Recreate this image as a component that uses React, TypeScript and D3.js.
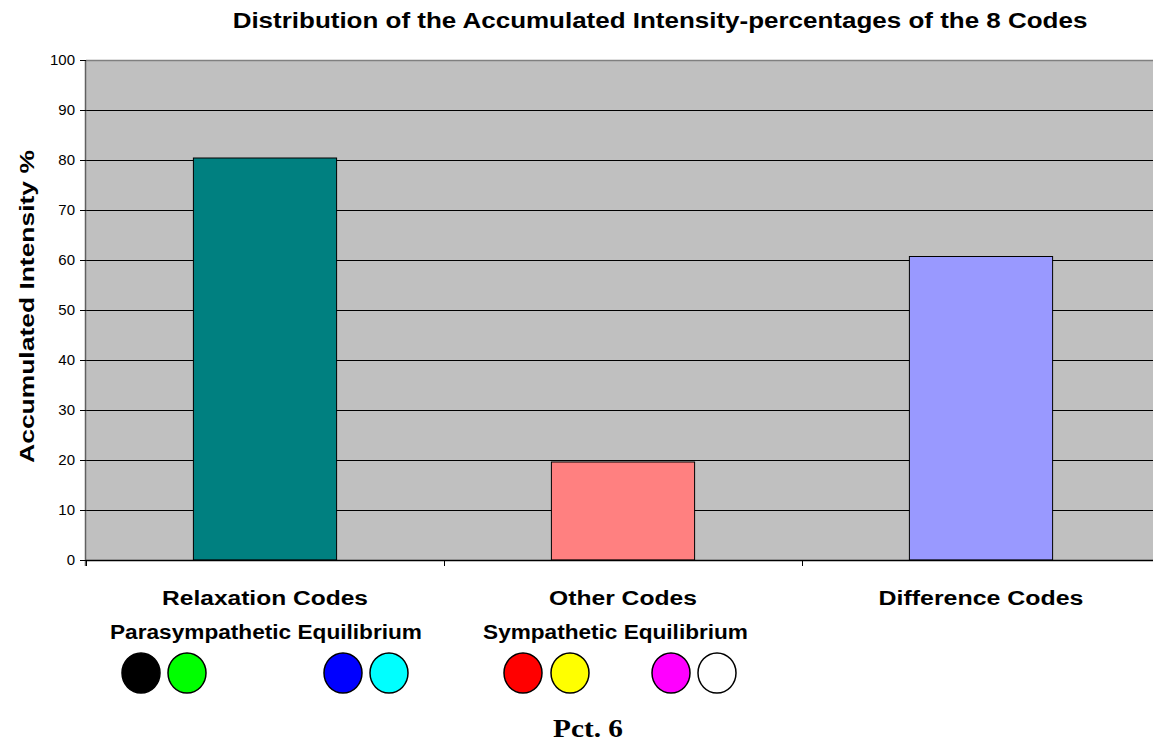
import React from "react";
import * as d3 from "d3";

const categories = ["Relaxation Codes", "Other Codes", "Difference Codes"];
const values = [80.4, 19.6, 60.7];
const barColors = ["#008080", "#FF8080", "#9999FF"];
const yTicks = [0, 10, 20, 30, 40, 50, 60, 70, 80, 90, 100];
const subLabels = ["Parasympathetic Equilibrium", "Sympathetic Equilibrium"];
const dotColors = ["#000000", "#00FF00", "#0000FF", "#00FFFF", "#FF0000", "#FFFF00", "#FF00FF", "#FFFFFF"];
const title = "Distribution of the Accumulated Intensity-percentages of the 8 Codes";
const yTitle = "Accumulated Intensity %";
const caption = "Pct. 6";

const W = 1153, H = 743;
const L = 86, R = 1160, T = 60, B = 560;
const SANS = "'Liberation Sans', Arial, sans-serif";
const SERIF = "'Liberation Serif', 'Times New Roman', serif";

let ctx: CanvasRenderingContext2D | null = null;
function measure(text: string, size: number, family: string) {
  if (!ctx) ctx = document.createElement("canvas").getContext("2d");
  if (!ctx) return text.length * size * 0.55;
  ctx.font = `bold ${size}px ${family}`;
  return ctx.measureText(text).width;
}

function SText({ text, cx, y, size, width, family = SANS, rotate = false }:
  { text: string; cx: number; y: number; size: number; width: number; family?: string; rotate?: boolean }) {
  const sx = width / measure(text, size, family);
  const tr = rotate
    ? `translate(${cx},${y}) rotate(-90) scale(${sx},1)`
    : `translate(${cx},${y}) scale(${sx},1)`;
  return (
    <text transform={tr} textAnchor="middle" fontSize={size} fontWeight="bold" fontFamily={family}>{text}</text>
  );
}

export default function App() {
  const x = d3.scaleBand<string>().domain(categories).range([L, R]).paddingInner(0.6).paddingOuter(0.3);
  const xb = d3.scaleBand<string>().domain(categories).range([L, R]).padding(0);
  const y = d3.scaleLinear().domain([0, 100]).range([B, T]);
  const dotX = [141, 187, 343, 389, 523, 570, 671, 717];
  const subX = [266, 615.5];
  const subLen = [312, 265];
  const catLen = [206, 148, 205];
  return (
    <svg width={W} height={H} style={{ position: "absolute", left: 0, top: 0, background: "#fff" }} fontFamily={SANS}>
      <SText text={title} cx={660} y={28} size={22} width={856} />
      <rect x={L} y={T} width={R - L} height={B - T} fill="#C0C0C0" />
      <line x1={L} x2={R} y1={T + 0.5} y2={T + 0.5} stroke="#808080" strokeWidth={1.5} />
      {yTicks.filter(t => t > 0 && t < 100).map(t => (
        <line key={t} x1={L} x2={R} y1={Math.round(y(t)) + 0.5} y2={Math.round(y(t)) + 0.5} stroke="#000" strokeWidth={1} />
      ))}
      {categories.map((c, i) => (
        <rect key={c} x={x(c)!} y={y(values[i])} width={x.bandwidth()} height={B - y(values[i])}
          fill={barColors[i]} stroke="#000" strokeWidth={1} />
      ))}
      <line x1={L - 0.5} x2={L - 0.5} y1={T} y2={B + 6} stroke="#606060" strokeWidth={1.5} />
      <line x1={L} x2={R} y1={B + 0.5} y2={B + 0.5} stroke="#000" strokeWidth={1.5} />
      {yTicks.map(t => (
        <g key={t}>
          <line x1={L - 6} x2={L} y1={Math.round(y(t)) + 0.5} y2={Math.round(y(t)) + 0.5} stroke="#000" />
          <text x={75} y={y(t) + 5} textAnchor="end" fontSize={15}>{t}</text>
        </g>
      ))}
      {categories.map(c => (
        <line key={c} x1={xb(c)! + 0.5} x2={xb(c)! + 0.5} y1={B} y2={B + 6} stroke="#000" />
      ))}
      {categories.map((c, i) => (
        <SText key={c} text={c} cx={xb(c)! + xb.bandwidth() / 2} y={605} size={21} width={catLen[i]} />
      ))}
      <SText text={yTitle} cx={34} y={306.5} size={21} width={313} rotate />
      {subLabels.map((s, i) => (
        <SText key={s} text={s} cx={subX[i]} y={639} size={20} width={subLen[i]} />
      ))}
      {dotColors.map((c, i) => (
        <ellipse key={i} cx={dotX[i]} cy={673} rx={19} ry={20} fill={c} stroke="#000" strokeWidth={1.5} />
      ))}
      <SText text={caption} cx={588} y={737} size={25} width={70} family={SERIF} />
    </svg>
  );
}
